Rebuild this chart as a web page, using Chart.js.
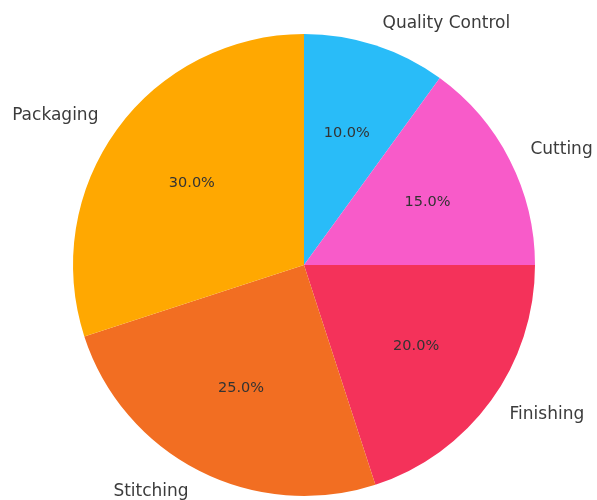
<!DOCTYPE html>
<html>
<head>
<meta charset="utf-8">
<script src="https://cdn.jsdelivr.net/npm/chart.js@4.4.1/dist/chart.umd.min.js"></script>
<style>
html,body{margin:0;padding:0;background:#fff;}
#wrap{width:597px;height:500px;position:relative;}
</style>
</head>
<body>
<div id="wrap"><canvas id="c" width="597" height="500"></canvas></div>
<script>
const categories = ["Quality Control", "Cutting", "Finishing", "Stitching", "Packaging"];
const shares = [10, 15, 20, 25, 30];
const sliceColors = ["#29BCF8", "#F85BC9", "#F4325A", "#F26E22", "#FFA801"];

const pieLabels = {
  id: 'pieLabels',
  afterDatasetsDraw(chart) {
    const ctx = chart.ctx;
    const meta = chart.getDatasetMeta(0);
    const total = shares.reduce((a, b) => a + b, 0);
    ctx.save();
    meta.data.forEach((arc, i) => {
      const p = arc.getProps(['x', 'y', 'startAngle', 'endAngle', 'outerRadius'], true);
      const mid = (p.startAngle + p.endAngle) / 2;
      const cx = Math.cos(mid), cy = Math.sin(mid);
      // outer label
      const lr = p.outerRadius * 1.1;
      ctx.font = '17px "DejaVu Sans"';
      ctx.fillStyle = '#3b3b3b';
      ctx.textBaseline = 'middle';
      ctx.textAlign = cx >= 0 ? 'left' : 'right';
      ctx.fillText(categories[i], p.x + lr * cx, p.y + lr * cy);
      // percentage
      const pr = p.outerRadius * 0.6;
      ctx.font = '14.5px "DejaVu Sans"';
      ctx.fillStyle = '#333333';
      ctx.textAlign = 'center';
      ctx.fillText((shares[i] / total * 100).toFixed(1) + '%', p.x + pr * cx, p.y + pr * cy);
    });
    ctx.restore();
  }
};

new Chart(document.getElementById('c'), {
  type: 'pie',
  data: {
    labels: categories,
    datasets: [{
      data: shares,
      backgroundColor: sliceColors,
      borderWidth: 0
    }]
  },
  options: {
    responsive: false,
    animation: false,
    layout: { padding: { left: 73, right: 62, top: 34, bottom: 4 } },
    plugins: { legend: { display: false }, tooltip: { enabled: false } }
  },
  plugins: [pieLabels]
});
</script>
</body>
</html>
